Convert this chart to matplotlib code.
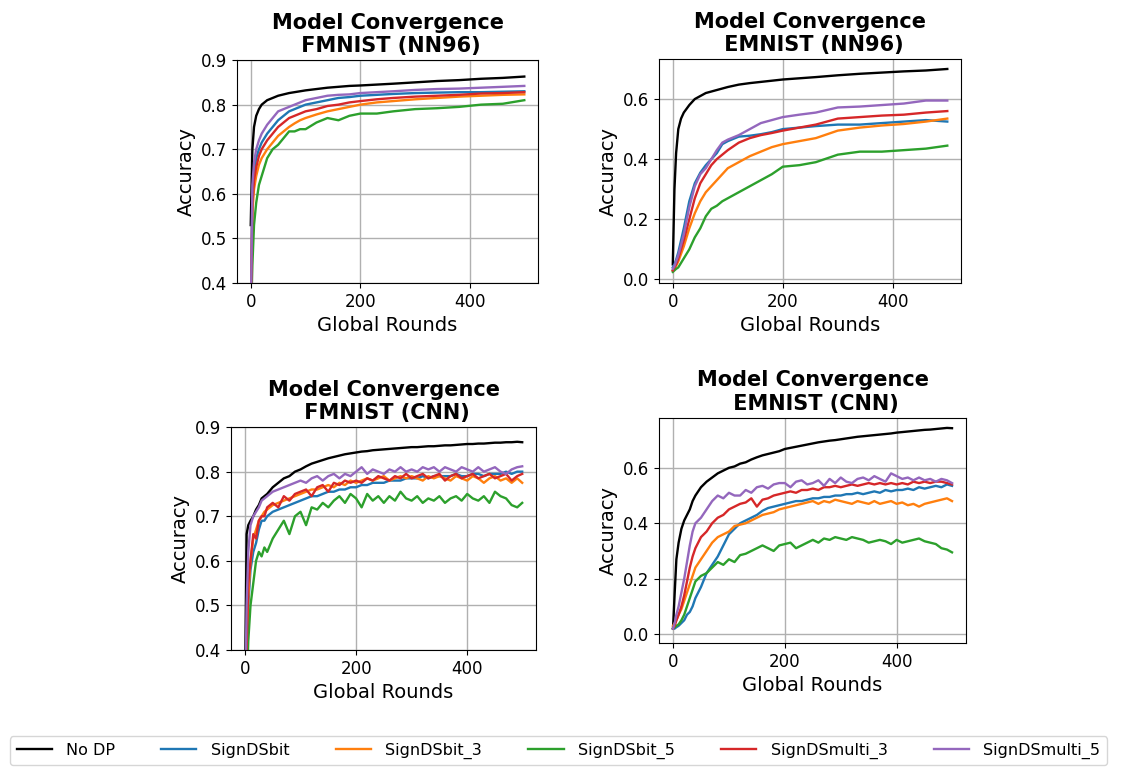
import matplotlib
matplotlib.use("Agg")
import matplotlib.pyplot as plt

# series names and colours (matplotlib default cycle)
labels = ["No DP", "SignDSbit", "SignDSbit_3", "SignDSbit_5", "SignDSmulti_3", "SignDSmulti_5"]
colors = ["black", "tab:blue", "tab:orange", "tab:green", "tab:red", "tab:purple"]

# ---------- NN96 runs ----------
nn_rounds = [0, 3, 6, 10, 15, 20, 30, 40, 50, 60, 70, 80, 90, 100, 120, 140, 160, 180, 200,
             230, 260, 300, 340, 380, 420, 460, 499]

fm_nn_nodp = [0.53, 0.70, 0.75, 0.775, 0.79, 0.80, 0.81, 0.815, 0.82, 0.823, 0.826, 0.828, 0.83, 0.832,
              0.835, 0.838, 0.840, 0.842, 0.843, 0.845, 0.847, 0.850, 0.853, 0.855, 0.858, 0.860, 0.863]
fm_nn_bit = [0.30, 0.60, 0.65, 0.68, 0.70, 0.715, 0.735, 0.75, 0.765, 0.775, 0.785, 0.79, 0.795, 0.80,
             0.805, 0.81, 0.815, 0.817, 0.82, 0.822, 0.824, 0.826, 0.827, 0.828, 0.828, 0.829, 0.83]
fm_nn_bit3 = [0.30, 0.56, 0.61, 0.64, 0.665, 0.68, 0.70, 0.715, 0.73, 0.74, 0.75, 0.758, 0.765, 0.77,
              0.778, 0.785, 0.79, 0.795, 0.80, 0.805, 0.808, 0.812, 0.815, 0.818, 0.82, 0.822, 0.823]
fm_nn_bit5 = [0.30, 0.44, 0.53, 0.58, 0.62, 0.64, 0.68, 0.70, 0.71, 0.725, 0.74, 0.74, 0.745, 0.745,
              0.76, 0.77, 0.765, 0.775, 0.78, 0.78, 0.785, 0.79, 0.792, 0.795, 0.80, 0.802, 0.81]
fm_nn_multi3 = [0.30, 0.58, 0.63, 0.66, 0.685, 0.70, 0.72, 0.735, 0.75, 0.76, 0.77, 0.775, 0.78, 0.785,
                0.79, 0.797, 0.80, 0.805, 0.808, 0.812, 0.815, 0.818, 0.82, 0.822, 0.825, 0.826, 0.828]
fm_nn_multi5 = [0.30, 0.62, 0.67, 0.70, 0.72, 0.735, 0.755, 0.77, 0.785, 0.79, 0.795, 0.80, 0.805, 0.81,
                0.815, 0.82, 0.822, 0.823, 0.826, 0.828, 0.830, 0.833, 0.835, 0.836, 0.838, 0.840, 0.842]

em_nn_nodp = [0.05, 0.30, 0.42, 0.50, 0.535, 0.555, 0.58, 0.60, 0.61, 0.62, 0.625, 0.63, 0.635, 0.64,
              0.648, 0.653, 0.657, 0.661, 0.665, 0.669, 0.673, 0.679, 0.684, 0.688, 0.692, 0.695, 0.70]
em_nn_bit = [0.04, 0.05, 0.065, 0.09, 0.13, 0.17, 0.26, 0.32, 0.355, 0.38, 0.40, 0.42, 0.45, 0.46,
             0.475, 0.478, 0.483, 0.49, 0.50, 0.505, 0.51, 0.515, 0.515, 0.52, 0.525, 0.53, 0.525]
em_nn_bit3 = [0.03, 0.035, 0.045, 0.06, 0.085, 0.11, 0.17, 0.22, 0.26, 0.29, 0.31, 0.33, 0.35, 0.37,
              0.39, 0.41, 0.425, 0.44, 0.45, 0.46, 0.47, 0.495, 0.505, 0.512, 0.517, 0.525, 0.535]
em_nn_bit5 = [0.025, 0.03, 0.035, 0.04, 0.055, 0.07, 0.10, 0.14, 0.17, 0.21, 0.235, 0.245, 0.26, 0.27,
              0.29, 0.31, 0.33, 0.35, 0.375, 0.38, 0.39, 0.415, 0.425, 0.425, 0.43, 0.435, 0.445]
em_nn_multi3 = [0.03, 0.04, 0.05, 0.07, 0.10, 0.13, 0.20, 0.27, 0.32, 0.35, 0.38, 0.40, 0.415, 0.43,
                0.455, 0.47, 0.48, 0.487, 0.495, 0.505, 0.515, 0.535, 0.54, 0.545, 0.548, 0.555, 0.56]
em_nn_multi5 = [0.035, 0.045, 0.06, 0.08, 0.115, 0.15, 0.24, 0.31, 0.35, 0.37, 0.40, 0.43, 0.455, 0.465,
                0.48, 0.50, 0.52, 0.53, 0.54, 0.548, 0.555, 0.572, 0.575, 0.58, 0.585, 0.595, 0.595]

# ---------- CNN runs (noisier) ----------
cnn_rounds = [0, 3, 6, 10, 15, 20, 25, 30, 35, 40,
              50, 60, 70, 80, 90, 100, 110, 120, 130, 140,
              150, 160, 170, 180, 190, 200, 210, 220, 230, 240,
              250, 260, 270, 280, 290, 300, 310, 320, 330, 340,
              350, 360, 370, 380, 390, 400, 410, 420, 430, 440,
              450, 460, 470, 480, 490, 499]

fm_cnn_nodp = [0.30, 0.66, 0.68, 0.69, 0.70, 0.715, 0.725, 0.74, 0.745, 0.75,
               0.765, 0.775, 0.785, 0.79, 0.80, 0.805, 0.812, 0.818, 0.822, 0.826,
               0.83, 0.833, 0.836, 0.839, 0.841, 0.843, 0.845, 0.846, 0.848, 0.849,
               0.85, 0.851, 0.852, 0.853, 0.854, 0.855, 0.855, 0.856, 0.857, 0.857,
               0.858, 0.859, 0.859, 0.86, 0.861, 0.862, 0.862, 0.863, 0.863, 0.864,
               0.865, 0.865, 0.866, 0.866, 0.867, 0.866]
fm_cnn_bit = [0.20, 0.35, 0.50, 0.58, 0.62, 0.64, 0.67, 0.69, 0.69, 0.70,
              0.71, 0.715, 0.72, 0.725, 0.73, 0.735, 0.74, 0.745, 0.745, 0.75,
              0.755, 0.755, 0.76, 0.76, 0.765, 0.765, 0.77, 0.77, 0.775, 0.775,
              0.775, 0.78, 0.78, 0.78, 0.785, 0.785, 0.785, 0.79, 0.785, 0.79,
              0.79, 0.79, 0.79, 0.795, 0.79, 0.79, 0.795, 0.795, 0.79, 0.795,
              0.795, 0.795, 0.80, 0.795, 0.80, 0.80]
fm_cnn_bit3 = [0.20, 0.38, 0.52, 0.60, 0.65, 0.67, 0.69, 0.70, 0.71, 0.715,
               0.725, 0.73, 0.735, 0.74, 0.745, 0.75, 0.755, 0.76, 0.76, 0.765,
               0.77, 0.765, 0.775, 0.77, 0.78, 0.775, 0.78, 0.785, 0.78, 0.785,
               0.79, 0.78, 0.785, 0.79, 0.785, 0.79, 0.785, 0.78, 0.79, 0.785,
               0.79, 0.785, 0.78, 0.79, 0.785, 0.78, 0.79, 0.785, 0.775, 0.785,
               0.79, 0.78, 0.785, 0.775, 0.785, 0.775]
fm_cnn_bit5 = [0.15, 0.30, 0.42, 0.50, 0.55, 0.60, 0.62, 0.61, 0.63, 0.62,
               0.65, 0.67, 0.69, 0.66, 0.70, 0.71, 0.68, 0.72, 0.715, 0.73,
               0.72, 0.735, 0.745, 0.73, 0.75, 0.74, 0.72, 0.75, 0.735, 0.745,
               0.73, 0.745, 0.735, 0.755, 0.74, 0.735, 0.745, 0.73, 0.74, 0.735,
               0.745, 0.73, 0.74, 0.745, 0.735, 0.75, 0.74, 0.735, 0.745, 0.73,
               0.755, 0.745, 0.74, 0.725, 0.72, 0.73]
fm_cnn_multi3 = [0.20, 0.40, 0.55, 0.60, 0.66, 0.65, 0.69, 0.70, 0.70, 0.72,
                 0.73, 0.72, 0.745, 0.735, 0.75, 0.755, 0.76, 0.745, 0.765, 0.77,
                 0.755, 0.775, 0.77, 0.78, 0.775, 0.78, 0.775, 0.785, 0.78, 0.79,
                 0.785, 0.78, 0.79, 0.785, 0.795, 0.785, 0.79, 0.795, 0.785, 0.79,
                 0.795, 0.78, 0.79, 0.795, 0.785, 0.79, 0.795, 0.785, 0.79, 0.795,
                 0.785, 0.79, 0.795, 0.78, 0.79, 0.795]
fm_cnn_multi5 = [0.25, 0.50, 0.62, 0.68, 0.70, 0.71, 0.72, 0.735, 0.74, 0.745,
                 0.755, 0.76, 0.765, 0.77, 0.775, 0.78, 0.775, 0.785, 0.79, 0.78,
                 0.79, 0.795, 0.785, 0.795, 0.79, 0.80, 0.81, 0.795, 0.805, 0.80,
                 0.795, 0.805, 0.80, 0.81, 0.80, 0.805, 0.80, 0.81, 0.805, 0.81,
                 0.80, 0.81, 0.805, 0.80, 0.81, 0.805, 0.80, 0.81, 0.80, 0.805,
                 0.81, 0.80, 0.795, 0.805, 0.81, 0.812]

em_cnn_nodp = [0.02, 0.15, 0.27, 0.33, 0.38, 0.41, 0.43, 0.45, 0.48, 0.50,
               0.53, 0.55, 0.565, 0.58, 0.59, 0.60, 0.605, 0.615, 0.62, 0.63,
               0.638, 0.645, 0.65, 0.655, 0.66, 0.668, 0.672, 0.676, 0.68, 0.684,
               0.688, 0.692, 0.695, 0.698, 0.70, 0.703, 0.706, 0.709, 0.712, 0.714,
               0.716, 0.718, 0.72, 0.722, 0.724, 0.727, 0.729, 0.731, 0.733, 0.735,
               0.737, 0.738, 0.74, 0.742, 0.744, 0.743]
em_cnn_bit = [0.02, 0.02, 0.025, 0.03, 0.04, 0.05, 0.07, 0.08, 0.10, 0.13,
              0.17, 0.22, 0.25, 0.28, 0.32, 0.36, 0.38, 0.40, 0.41, 0.42,
              0.43, 0.445, 0.455, 0.46, 0.465, 0.47, 0.475, 0.48, 0.48, 0.485,
              0.49, 0.49, 0.495, 0.495, 0.50, 0.50, 0.505, 0.505, 0.51, 0.505,
              0.51, 0.515, 0.51, 0.52, 0.515, 0.52, 0.52, 0.525, 0.52, 0.53,
              0.525, 0.53, 0.535, 0.53, 0.54, 0.535]
em_cnn_bit3 = [0.03, 0.04, 0.05, 0.07, 0.09, 0.12, 0.15, 0.18, 0.21, 0.24,
               0.27, 0.30, 0.33, 0.35, 0.36, 0.37, 0.39, 0.395, 0.40, 0.41,
               0.42, 0.43, 0.435, 0.44, 0.45, 0.455, 0.46, 0.465, 0.47, 0.475,
               0.48, 0.47, 0.48, 0.475, 0.485, 0.48, 0.475, 0.47, 0.48, 0.475,
               0.47, 0.48, 0.47, 0.475, 0.48, 0.47, 0.475, 0.465, 0.47, 0.46,
               0.47, 0.475, 0.48, 0.485, 0.49, 0.48]
em_cnn_bit5 = [0.02, 0.025, 0.03, 0.035, 0.05, 0.07, 0.10, 0.13, 0.16, 0.19,
               0.21, 0.22, 0.24, 0.26, 0.25, 0.27, 0.26, 0.285, 0.29, 0.30,
               0.31, 0.32, 0.31, 0.30, 0.32, 0.325, 0.33, 0.31, 0.32, 0.33,
               0.34, 0.33, 0.345, 0.34, 0.35, 0.345, 0.34, 0.35, 0.345, 0.34,
               0.33, 0.335, 0.34, 0.335, 0.325, 0.34, 0.33, 0.335, 0.34, 0.345,
               0.335, 0.33, 0.325, 0.31, 0.305, 0.295]
em_cnn_multi3 = [0.02, 0.03, 0.05, 0.07, 0.10, 0.14, 0.19, 0.24, 0.28, 0.31,
                 0.35, 0.37, 0.40, 0.42, 0.43, 0.45, 0.46, 0.47, 0.475, 0.49,
                 0.46, 0.485, 0.49, 0.50, 0.505, 0.51, 0.515, 0.51, 0.52, 0.52,
                 0.525, 0.52, 0.53, 0.53, 0.535, 0.53, 0.535, 0.54, 0.535, 0.54,
                 0.545, 0.54, 0.545, 0.54, 0.545, 0.54, 0.545, 0.54, 0.55, 0.545,
                 0.55, 0.545, 0.55, 0.55, 0.545, 0.54]
em_cnn_multi5 = [0.02, 0.04, 0.07, 0.10, 0.15, 0.20, 0.26, 0.32, 0.37, 0.40,
                 0.42, 0.45, 0.48, 0.50, 0.49, 0.51, 0.50, 0.50, 0.52, 0.51,
                 0.53, 0.535, 0.525, 0.54, 0.545, 0.545, 0.53, 0.55, 0.555, 0.54,
                 0.545, 0.555, 0.535, 0.56, 0.545, 0.565, 0.55, 0.545, 0.56, 0.565,
                 0.555, 0.57, 0.56, 0.55, 0.58, 0.57, 0.56, 0.565, 0.555, 0.565,
                 0.555, 0.56, 0.55, 0.56, 0.555, 0.545]

panels = [
    ("Model Convergence\n FMNIST (NN96)", nn_rounds,
     [fm_nn_nodp, fm_nn_bit, fm_nn_bit3, fm_nn_bit5, fm_nn_multi3, fm_nn_multi5],
     (0.4, 0.9), [0.4, 0.5, 0.6, 0.7, 0.8, 0.9]),
    ("Model Convergence\n EMNIST (NN96)", nn_rounds,
     [em_nn_nodp, em_nn_bit, em_nn_bit3, em_nn_bit5, em_nn_multi3, em_nn_multi5],
     (-0.012, 0.733), [0.0, 0.2, 0.4, 0.6]),
    ("Model Convergence\n FMNIST (CNN)", cnn_rounds,
     [fm_cnn_nodp, fm_cnn_bit, fm_cnn_bit3, fm_cnn_bit5, fm_cnn_multi3, fm_cnn_multi5],
     (0.4, 0.9), [0.4, 0.5, 0.6, 0.7, 0.8, 0.9]),
    ("Model Convergence\n EMNIST (CNN)", cnn_rounds,
     [em_cnn_nodp, em_cnn_bit, em_cnn_bit3, em_cnn_bit5, em_cnn_multi3, em_cnn_multi5],
     (-0.032, 0.78), [0.0, 0.2, 0.4, 0.6]),
]

boxes = [
    [0.2105, 0.631, 0.2673, 0.2907],
    [0.5853, 0.631, 0.2682, 0.292],
    [0.2052, 0.1525, 0.2709, 0.2907],
    [0.5853, 0.1617, 0.2726, 0.2934],
]

fig = plt.figure(figsize=(11.26, 7.67), dpi=100)

for (title, rounds, series, ylim, yticks), box in zip(panels, boxes):
    ax = fig.add_axes(box)
    for vals, c, lab in zip(series, colors, labels):
        ax.plot(rounds, vals, color=c, lw=1.7, label=lab)
    ax.set_xlim(-25, 524)
    ax.set_ylim(*ylim)
    ax.set_xticks([0, 200, 400])
    ax.set_yticks(yticks)
    ax.tick_params(labelsize=12)
    ax.grid(True, color="#b0b0b0", lw=1)
    ax.set_xlabel("Global Rounds", fontsize=14)
    ax.set_ylabel("Accuracy", fontsize=14)
    ax.set_title(title, fontsize=15, fontweight="bold")

handles, labs = ax.get_legend_handles_labels()
fig.legend(handles, labs, loc="lower left", bbox_to_anchor=(0.009, 0.002), ncol=6,
           fontsize=11.5, handlelength=2.2, handletextpad=0.9, columnspacing=2.9,
           frameon=True, borderaxespad=0)

fig.savefig("out.png", dpi=100)
